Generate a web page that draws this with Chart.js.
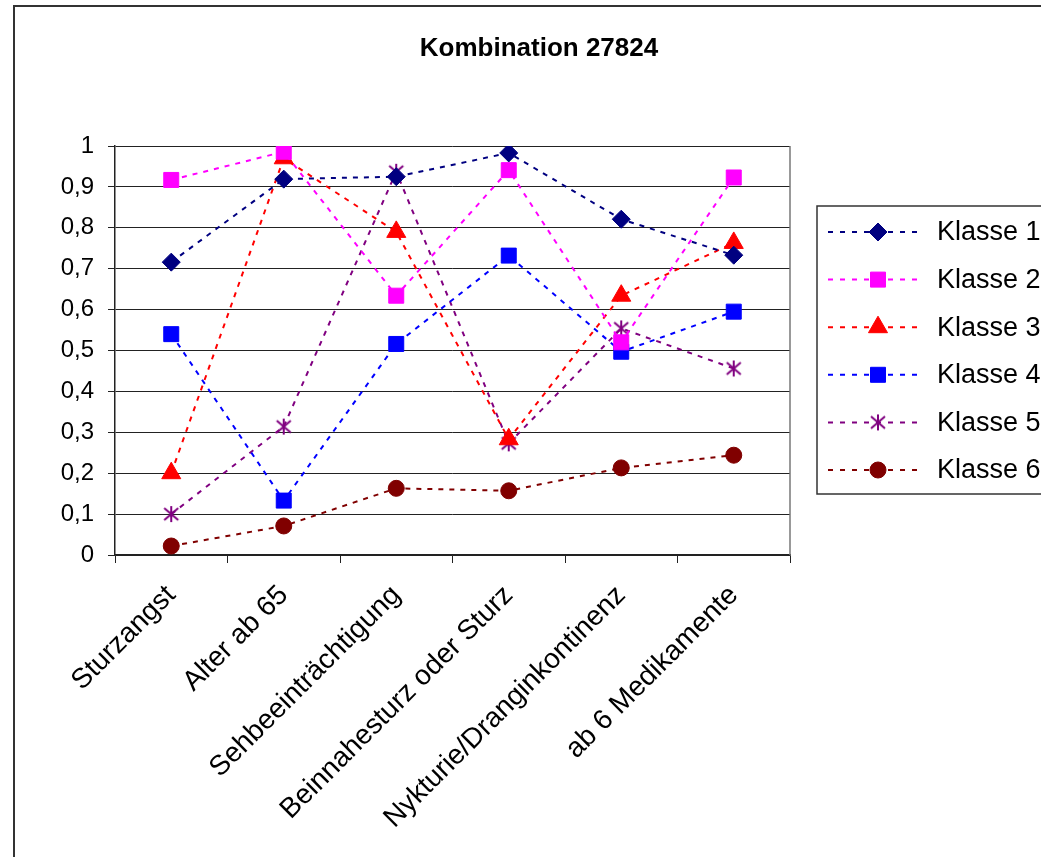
<!DOCTYPE html>
<html>
<head>
<meta charset="utf-8">
<script src="https://cdn.jsdelivr.net/npm/chart.js@4.4.0/dist/chart.umd.min.js"></script>
<style>
  html, body { margin: 0; padding: 0; background: #fff; }
  canvas { display: block; }
</style>
</head>
<body>
<canvas id="chart" width="1041" height="857"></canvas>
<script>
const categories = ['Sturzangst', 'Alter ab 65', 'Sehbeeinträchtigung', 'Beinnahesturz oder Sturz', 'Nykturie/Dranginkontinenz', 'ab 6 Medikamente'];
const seriesNames = ['Klasse 1', 'Klasse 2', 'Klasse 3', 'Klasse 4', 'Klasse 5', 'Klasse 6'];

const klasse1 = [0.716, 0.919, 0.925, 0.983, 0.821, 0.733];
const klasse2 = [0.917, 0.986, 0.634, 0.941, 0.52, 0.923];
const klasse3 = [0.2, 0.97, 0.79, 0.283, 0.634, 0.763];
const klasse4 = [0.54, 0.133, 0.516, 0.732, 0.497, 0.595];
const klasse5 = [0.1, 0.314, 0.937, 0.273, 0.554, 0.456];
const klasse6 = [0.022, 0.071, 0.163, 0.157, 0.213, 0.244];

const yTicks = [0, 0.1, 0.2, 0.3, 0.4, 0.5, 0.6, 0.7, 0.8, 0.9, 1];

const colors = ['#000080', '#ff00ff', '#ff0000', '#0000ff', '#800080', '#800000'];
const FONT = '"Liberation Sans", Arial, sans-serif';

// asterisk marker (Excel style star)
function makeStar(color) {
    const c = document.createElement('canvas');
    c.width = 20; c.height = 20;
    const g = c.getContext('2d');
    g.strokeStyle = color;
    g.lineWidth = 2;
    g.beginPath();
    g.moveTo(10, 2);  g.lineTo(10, 18);
    g.moveTo(3, 4);   g.lineTo(17, 16);
    g.moveTo(17, 4);  g.lineTo(3, 16);
    g.stroke();
    return c;
}

const markers = [
    { style: 'rectRot', radius: 9 },
    { style: 'rect', radius: 10.6 },
    { style: 'triangle', radius: 11 },
    { style: 'rect', radius: 10.6 },
    { style: makeStar(colors[4]), radius: 9 },
    { style: 'circle', radius: 8 }
];

const allData = [klasse1, klasse2, klasse3, klasse4, klasse5, klasse6];

const datasets = allData.map((vals, i) => ({
    label: seriesNames[i],
    data: vals,
    borderColor: colors[i],
    backgroundColor: colors[i],
    pointBackgroundColor: colors[i],
    pointBorderColor: colors[i],
    pointBorderWidth: 1,
    borderWidth: 2,
    borderDash: [5, 6],
    pointStyle: markers[i].style,
    pointRadius: markers[i].radius,
    pointHoverRadius: markers[i].radius,
    tension: 0,
    fill: false
}));

const frame = {
    id: 'frame',
    beforeDraw(chart) {
        const ctx = chart.ctx;
        ctx.save();
        ctx.fillStyle = '#fff';
        ctx.fillRect(0, 0, chart.width, chart.height);
        ctx.restore();
    },
    afterDraw(chart) {
        const ctx = chart.ctx;
        const a = chart.chartArea;
        ctx.save();

        // outer border
        ctx.strokeStyle = '#333';
        ctx.lineWidth = 2;
        ctx.strokeRect(14, 6, 1100, 900);

        // plot right border
        ctx.strokeStyle = '#777';
        ctx.lineWidth = 1.5;
        ctx.beginPath();
        ctx.moveTo(a.right, a.top);
        ctx.lineTo(a.right, a.bottom);
        ctx.stroke();

        // title
        ctx.fillStyle = '#000';
        ctx.font = 'bold 26px ' + FONT;
        ctx.textAlign = 'center';
        ctx.textBaseline = 'middle';
        ctx.fillText('Kombination 27824', 539, 49);

        // legend
        ctx.strokeStyle = '#333';
        ctx.lineWidth = 1.5;
        ctx.strokeRect(817, 206, 300, 288);
        ctx.font = '27px ' + FONT;
        ctx.textAlign = 'left';
        seriesNames.forEach((name, i) => {
            const y = 232 + i * 47.6;
            ctx.strokeStyle = colors[i];
            ctx.lineWidth = 2;
            ctx.setLineDash([5, 7]);
            ctx.beginPath();
            ctx.moveTo(828, y);
            ctx.lineTo(924, y);
            ctx.stroke();
            ctx.setLineDash([]);
            ctx.fillStyle = colors[i];
            ctx.strokeStyle = colors[i];
            ctx.lineWidth = 1;
            Chart.helpers.drawPoint(ctx, {
                pointStyle: markers[i].style,
                radius: markers[i].radius,
                rotation: 0,
                borderWidth: 1
            }, 878, y);
            ctx.fillStyle = '#000';
            ctx.fillText(name, 937, y + 1);
        });
        ctx.restore();
    }
};

new Chart(document.getElementById('chart'), {
    type: 'line',
    data: { labels: categories, datasets: datasets },
    options: {
        responsive: false,
        animation: false,
        events: [],
        layout: { padding: { left: 0, right: 251, top: 146, bottom: 0 } },
        plugins: {
            legend: { display: false },
            title: { display: false },
            tooltip: { enabled: false }
        },
        scales: {
            x: {
                offset: true,
                grid: {
                    offset: true,
                    drawOnChartArea: false,
                    drawTicks: true,
                    tickLength: 8,
                    color: '#222'
                },
                border: { color: '#222', width: 1.5 },
                ticks: {
                    autoSkip: false,
                    maxRotation: 45,
                    minRotation: 45,
                    padding: 16,
                    color: '#000',
                    font: { family: FONT, size: 28 }
                },
                afterFit: s => { s.height = 857 - 555; }
            },
            y: {
                min: 0,
                max: 1,
                afterBuildTicks: s => { s.ticks = yTicks.map(v => ({ value: v })); },
                grid: {
                    color: '#222',
                    drawTicks: true,
                    tickLength: 7
                },
                border: { color: '#222', width: 1.5 },
                ticks: {
                    padding: 14,
                    color: '#000',
                    font: { family: FONT, size: 24 },
                    callback: v => String(v).replace('.', ',')
                },
                afterFit: s => { s.width = 115; }
            }
        }
    },
    plugins: [frame]
});
</script>
</body>
</html>
